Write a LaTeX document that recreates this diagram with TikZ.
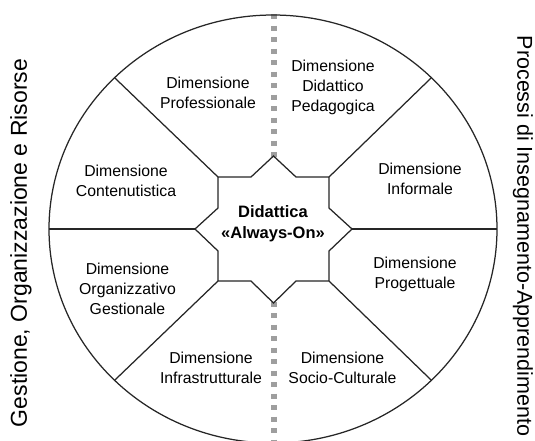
\documentclass[tikz,border=0pt]{standalone}
\usepackage{fontspec}
\setmainfont{Liberation Sans}
\begin{document}
\begin{tikzpicture}[x=1pt,y=-1pt,
  edge/.style={draw=black!85, line width=1.25pt},
  axisline/.style={draw=black!38, line width=5.5pt, dash pattern=on 5pt off 6.5pt},
  dimlabel/.style={align=center, font=\fontsize{15.8}{20}\selectfont, text=black, inner sep=0pt},
  sidelabel/.style={font=\fontsize{21.5}{24}\selectfont, text=black, inner sep=0pt}]
\useasboundingbox (0,0) rectangle (535,440);
\clip (0,0) rectangle (535,440);
% centre
\coordinate (c) at (273,229);
% ellipse boundary points
\coordinate (eT) at (274,14);
\coordinate (eB) at (274,445);
\coordinate (eL) at (49,229);
\coordinate (eR) at (497,229);
\coordinate (eUL) at (114.6,77.7);
\coordinate (eUR) at (431.4,77.7);
\coordinate (eLR) at (431.4,380.3);
\coordinate (eLL) at (114.6,380.3);
% star points
\coordinate (sUL) at (218,177);
\coordinate (sUR) at (329,177);
\coordinate (sLR) at (329,281);
\coordinate (sLL) at (218,281);
\coordinate (sT1) at (251,177);
\coordinate (sT) at (273.5,156);
\coordinate (sT2) at (296,177);
\coordinate (sR1) at (329,208);
\coordinate (sR) at (352,229);
\coordinate (sR2) at (329,251);
\coordinate (sB2) at (296,281);
\coordinate (sB) at (273.5,303);
\coordinate (sB1) at (251,281);
\coordinate (sL2) at (218,251);
\coordinate (sL) at (195,229);
\coordinate (sL1) at (218,208);
% dashed axis
\draw[axisline] (eT) -- (eB);
% ellipse
\draw[edge] (c) ellipse [x radius=224pt, y radius=214pt];
% spokes
\draw[edge] (sUL) -- (eUL);
\draw[edge] (sUR) -- (eUR);
\draw[edge] (sLR) -- (eLR);
\draw[edge] (sLL) -- (eLL);
\draw[edge] (sL) -- (eL);
\draw[edge] (sR) -- (eR);
% star
\draw[edge, fill=white, line join=miter] (sUL) -- (sT1) -- (sT) -- (sT2) -- (sUR) -- (sR1) -- (sR) -- (sR2) -- (sLR) -- (sB2) -- (sB) -- (sB1) -- (sLL) -- (sL2) -- (sL) -- (sL1) -- cycle;
% labels
\node[dimlabel, font=\fontsize{16.5}{21}\selectfont\bfseries] (center) at (273,224) {Didattica\\«Always-On»};
\node[dimlabel] (prof) at (208,93) {Dimensione\\Professionale};
\node[dimlabel] (did) at (333,87) {Dimensione\\Didattico\\Pedagogica};
\node[dimlabel] (cont) at (126,181) {Dimensione\\Contenutistica};
\node[dimlabel] (inf) at (420,179) {Dimensione\\Informale};
\node[dimlabel] (org) at (127.5,289) {Dimensione\\Organizzativo\\Gestionale};
\node[dimlabel] (prog) at (415,274) {Dimensione\\Progettuale};
\node[dimlabel] (infra) at (211,368) {Dimensione\\Infrastrutturale};
\node[dimlabel] (socio) at (342.5,368) {Dimensione\\Socio-Culturale};
\node[sidelabel, font=\fontsize{23}{26}\selectfont, rotate=90] (gest) at (21,243) {Gestione, Organizzazione e Risorse};
\node[sidelabel, rotate=-90] (proc) at (523,236) {Processi di Insegnamento-Apprendimento};
\end{tikzpicture}
\end{document}
